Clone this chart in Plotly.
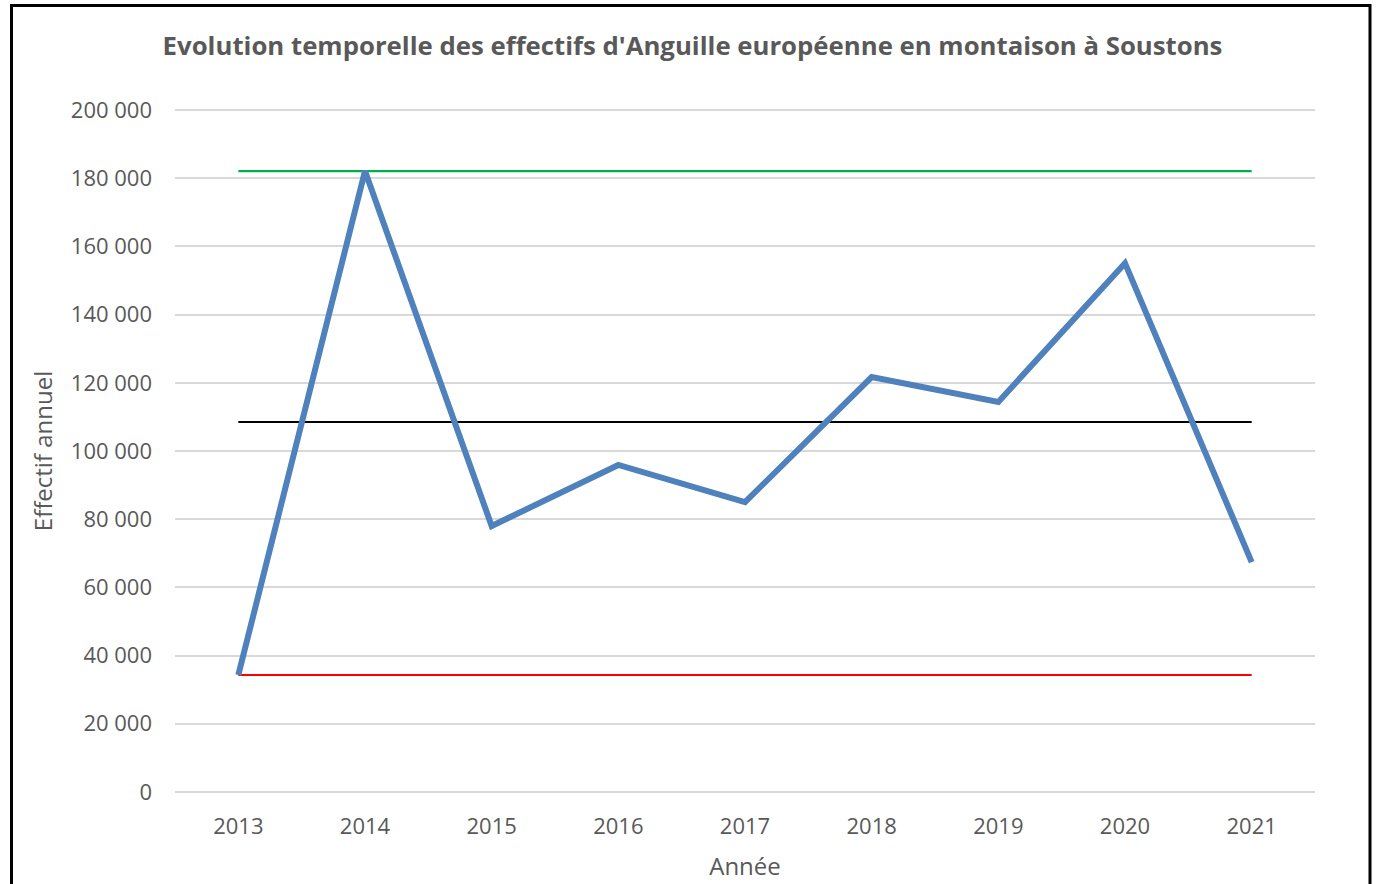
import plotly.graph_objects as go

years = [2013, 2014, 2015, 2016, 2017, 2018, 2019, 2020, 2021]
effectifs = [34300, 182100, 78000, 95900, 85000, 121700, 114400, 155100, 67400]
max_value = 182100
mean_value = 108500
min_value = 34300
y_ticks = [0, 20000, 40000, 60000, 80000, 100000, 120000, 140000, 160000, 180000, 200000]
y_tick_labels = ["0", "20 000", "40 000", "60 000", "80 000", "100 000", "120 000",
                 "140 000", "160 000", "180 000", "200 000"]

font_main = "'Open Sans', sans-serif"
grey = "#595959"

fig = go.Figure()
fig.add_trace(go.Scatter(x=[years[0], years[-1]], y=[max_value, max_value], mode="lines",
                         line=dict(color="#00B050", width=2.2), hoverinfo="skip"))
fig.add_trace(go.Scatter(x=[years[0], years[-1]], y=[mean_value, mean_value], mode="lines",
                         line=dict(color="#000000", width=2.2), hoverinfo="skip"))
fig.add_trace(go.Scatter(x=[years[0], years[-1]], y=[min_value, min_value], mode="lines",
                         line=dict(color="#FF0000", width=2.2), hoverinfo="skip"))
fig.add_trace(go.Scatter(x=years, y=effectifs, mode="lines",
                         line=dict(color="#4F81BD", width=6, shape="linear"),
                         cliponaxis=False))

fig.update_layout(
    width=1385, height=884,
    margin=dict(l=175, r=70, t=108, b=90, autoexpand=False),
    paper_bgcolor="white", plot_bgcolor="white",
    showlegend=False,
    font=dict(family=font_main, color=grey, size=22),
    title=dict(text="<b>Evolution temporelle des effectifs d'Anguille européenne en montaison à Soustons</b>",
               x=(692.5) / 1385, xref="container", xanchor="center", y=1 - 46 / 884, yanchor="middle",
               font=dict(family=font_main, size=25.75, color=grey)),
    xaxis=dict(range=[2012.5, 2021.5], tickvals=years, ticktext=[str(y) for y in years],
               showgrid=False, zeroline=False, showline=False, ticks="", automargin=False,
               ticklabelstandoff=17,
               tickfont=dict(size=22, color=grey),
               title=dict(text="Année", font=dict(size=24, color=grey), standoff=19)),
    yaxis=dict(range=[-600, 200600], tickvals=y_ticks, ticktext=y_tick_labels,
               showgrid=True, gridcolor="#D9D9D9", gridwidth=1.6, zeroline=False,
               showline=False, ticks="", ticklabelstandoff=22, automargin=False,
               tickfont=dict(size=22, color=grey),
               title=dict(text="Effectif annuel", font=dict(size=24, color=grey), standoff=11)),
    shapes=[dict(type="rect", xref="paper", yref="paper",
                 x0=(11.5 - 175) / 1140, x1=(1370 - 175) / 1140,
                 y0=(794 - 900) / 686, y1=(794 - 5.5) / 686,
                 line=dict(color="black", width=3), fillcolor="rgba(0,0,0,0)", layer="above")],
)

fig.write_html("out.html", config={"displayModeBar": False},
               post_script="document.body.style.margin='0';document.body.style.overflow='hidden';")
